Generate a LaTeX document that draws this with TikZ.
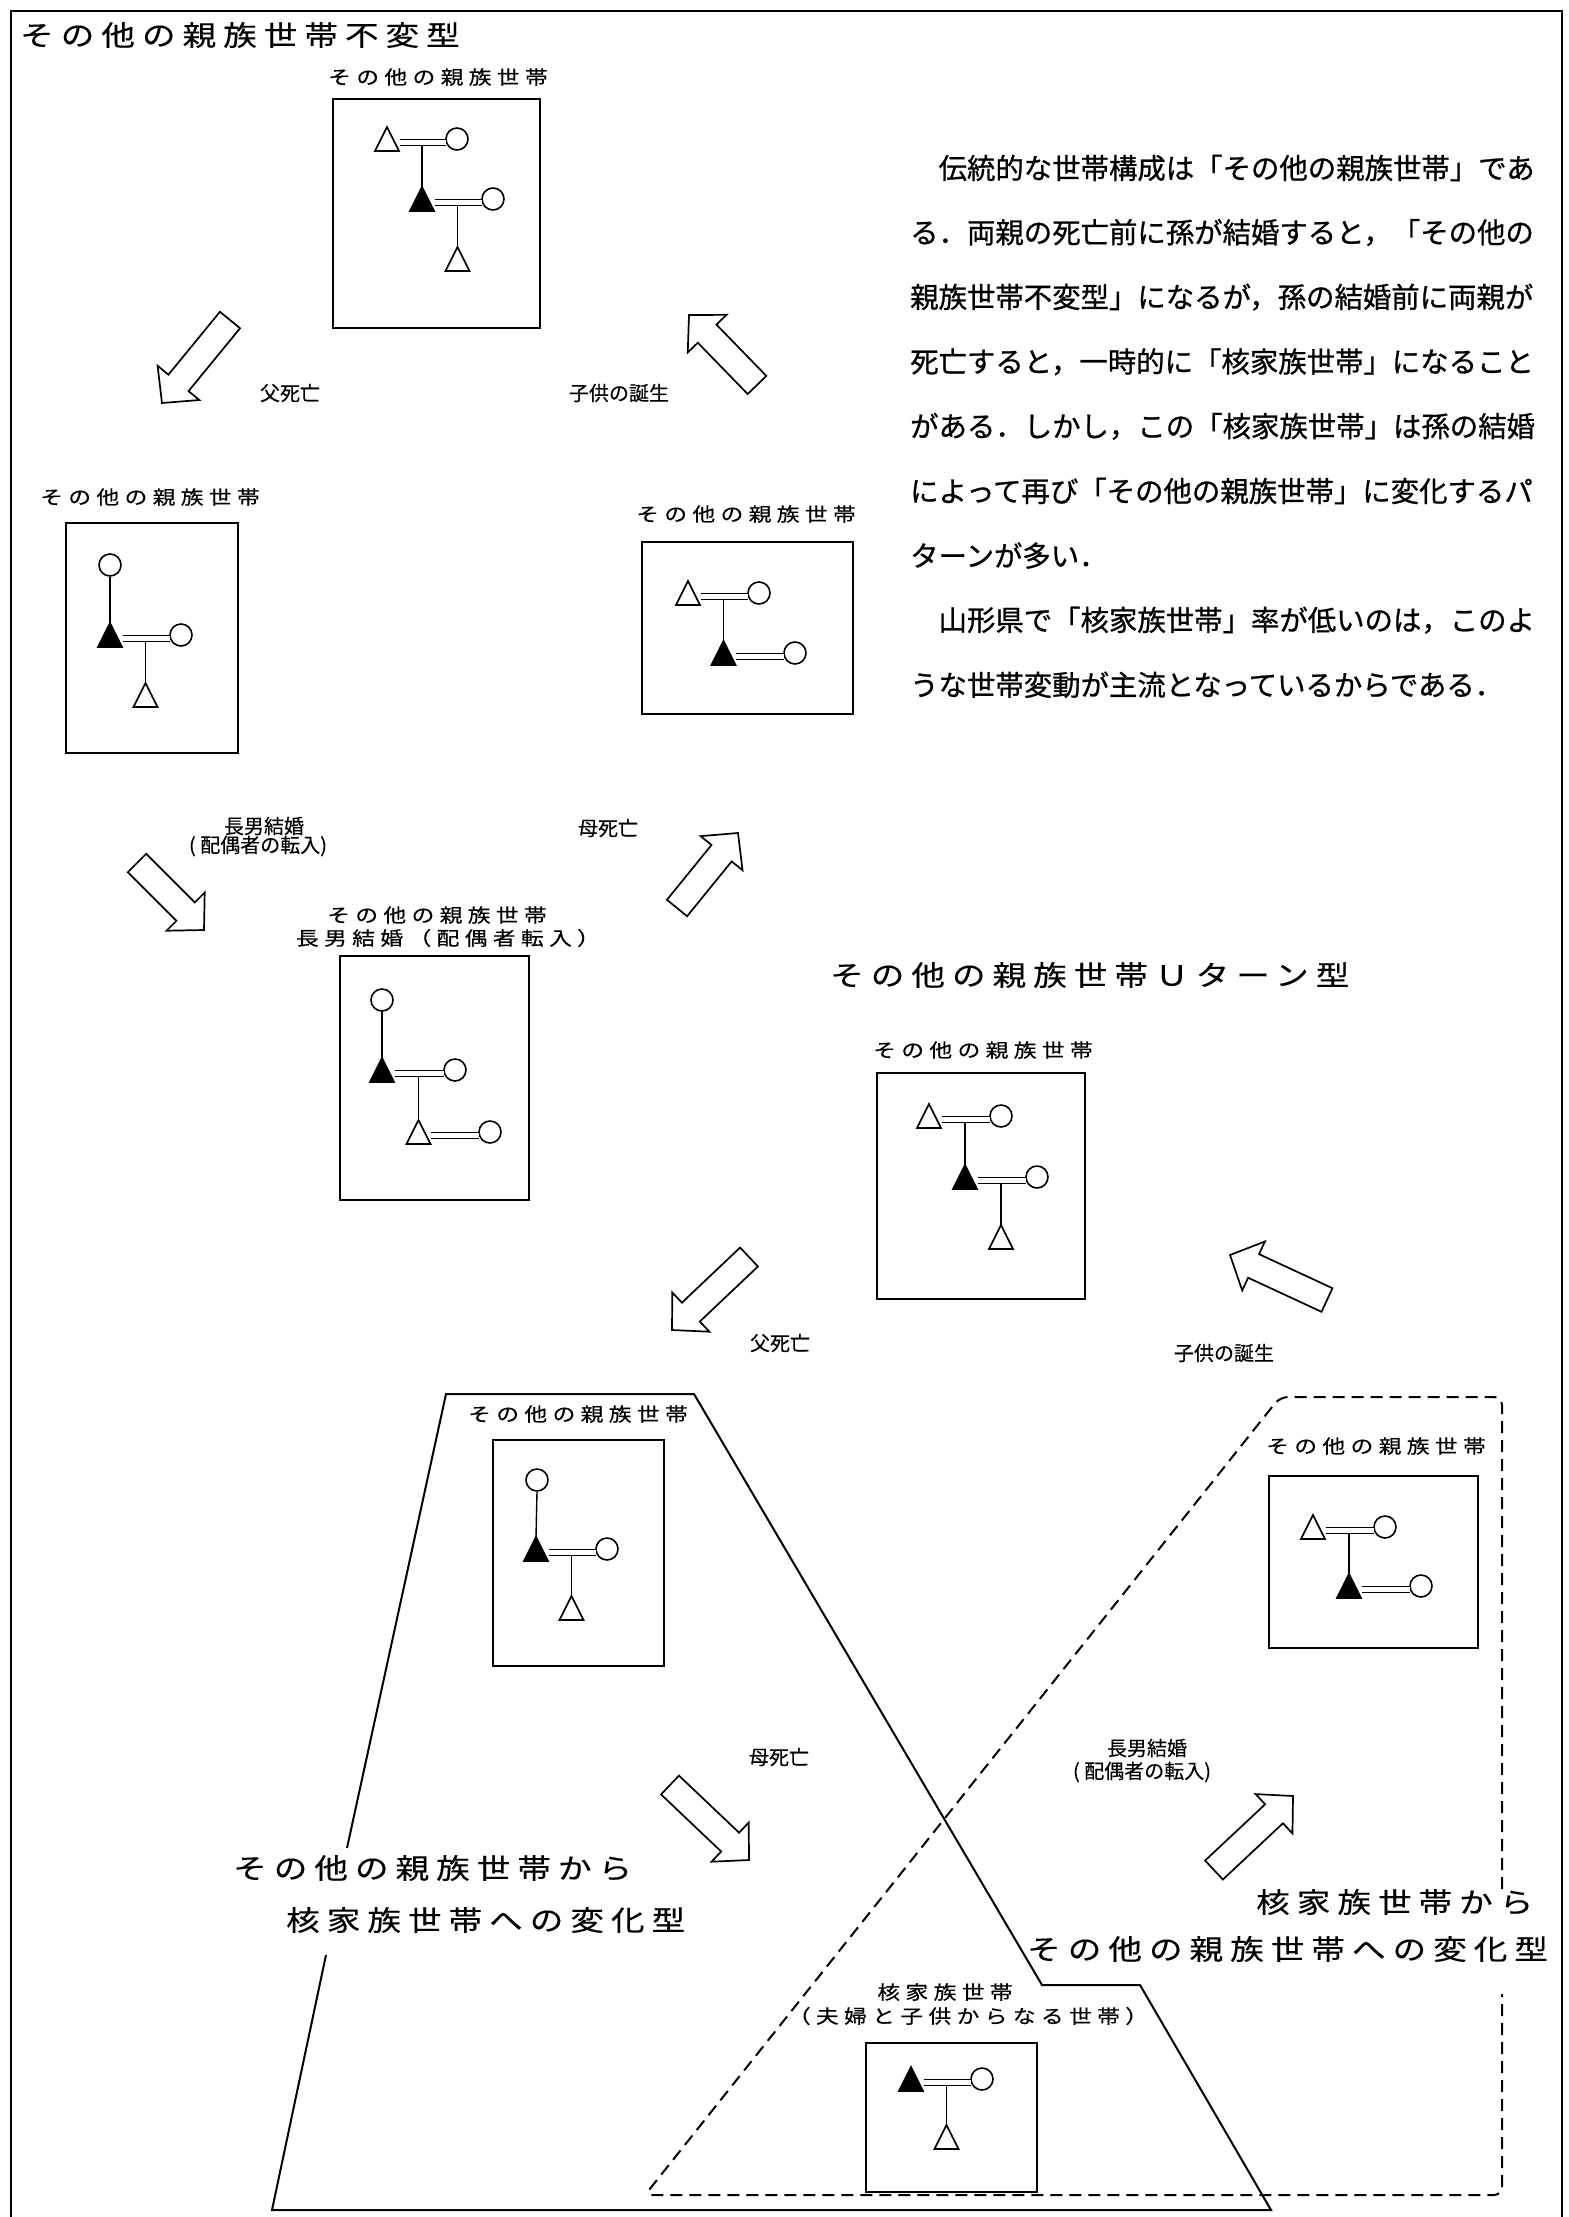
\documentclass[tikz,border=0pt]{standalone}
\usepackage{fontspec}
\usetikzlibrary{calc}
\newfontfamily\jp{Noto Sans CJK JP}[FakeBold=0.3]
\newfontfamily\jppara{Noto Sans CJK JP}[FakeBold=0.8]
\newfontfamily\jpwide{Noto Sans CJK JP}[FakeStretch=1.2, LetterSpace=25, FakeBold=0.3]
\newfontfamily\jpmid{Noto Sans CJK JP}[FakeStretch=1.2, LetterSpace=28, FakeBold=0.4]
\tikzset{
  sym/.style={line width=1.7pt, line join=miter},
  circ/.style={circle, draw, line width=1.6pt, minimum size=22pt, inner sep=0pt},
  famframe/.style={draw, line width=1.9pt, inner sep=0pt},
  dbl/.style={line width=1.6pt, double, double distance=4.6pt},
  ln/.style={line width=1.4pt},
  barrow/.style={draw, line width=1.7pt, fill=white, line join=miter},
  outer/.style={line width=2.2pt},
  trap/.style={line width=2pt, line join=miter},
  dsh/.style={line width=2pt, dash pattern=on 12pt off 7pt, rounded corners=8pt},
  bigt/.style={font=\jpwide\fontsize{28}{34}\selectfont, inner sep=0pt, anchor=west},
  lab/.style={font=\jpmid\fontsize{19}{24}\selectfont, inner sep=0pt},
  alab/.style={font=\jp\fontsize{20}{24}\selectfont, inner sep=0pt},
  para/.style={font=\jppara\fontsize{28.4}{34}\selectfont, inner sep=0pt, anchor=west},
}
% triangle symbol: [fill], name, x, y
\newcommand{\Tri}[4][]{%
  \coordinate (#2) at (#3,#4);
  \coordinate (#2-top) at (#3,#4-12);
  \draw[sym,#1] (#3-12,#4+12) -- (#2-top) -- (#3+12,#4+12) -- cycle;}
\newcommand{\Circ}[3]{\node[circ] (#1) at (#2,#3) {};}
\newcommand{\Couple}[2]{\draw[dbl] ($(#1)+(12.5,3.5)$) -- ($(#2)+(-11,3.5)$);}
\newcommand{\Descent}[3]{\draw[ln] ($(#1)!0.5!(#2)+(0,6.5)$) -- (#3-top);}
% frame box: name, x1, y1, x2, y2
\newcommand{\FamBox}[5]{\node[famframe, minimum width={#4-#2}, minimum height={#5-#3}] (#1) at ({(#2+#4)/2},{(#3+#5)/2}) {};}
% block arrow: name, tail centre, tip
\newcommand{\BArrow}[3]{%
  \coordinate (#1-a) at #2; \coordinate (#1-b) at #3;
  \coordinate (#1-h) at ($(#1-b)!26pt!(#1-a)$);
  \draw[barrow] ($(#1-a)!13pt!90:(#1-b)$) -- ($(#1-h)!13pt!90:(#1-b)$) -- ($(#1-h)!27pt!90:(#1-b)$) -- (#1-b)
     -- ($(#1-h)!27pt!-90:(#1-b)$) -- ($(#1-h)!13pt!-90:(#1-b)$) -- ($(#1-a)!13pt!-90:(#1-b)$) -- cycle;}
\begin{document}
\begin{tikzpicture}[x=1pt,y=-1pt]
\useasboundingbox (0,0) rectangle (1569,2217);
\fill[white] (0,0) rectangle (1569,2217);
% outer frame
\draw[outer] (11,2217) -- (11,11) -- (1562,11) -- (1562,2217);

% titles
\node[bigt] (t1) at (20,35) {その他の親族世帯不変型};
\node[bigt] (t2) at (830,975) {その他の親族世帯Ｕターン型};
\node[bigt] (t3) at (233,1868) {その他の親族世帯から};
\node[bigt] (t4) at (286,1920) {核家族世帯への変化型};
\node[bigt] (t5) at (1256,1902) {核家族世帯から};
\node[bigt] (t6) at (1027,1949) {その他の親族世帯への変化型};

% paragraph
\node[para] (p1) at (910,168) {　伝統的な世帯構成は「その他の親族世帯」であ};
\node[para] (p2) at (910,232.6) {る．両親の死亡前に孫が結婚すると，「その他の};
\node[para] (p3) at (910,297.2) {親族世帯不変型」になるが，孫の結婚前に両親が};
\node[para] (p4) at (910,361.8) {死亡すると，一時的に「核家族世帯」になること};
\node[para] (p5) at (910,426.4) {がある．しかし，この「核家族世帯」は孫の結婚};
\node[para] (p6) at (910,491) {によって再び「その他の親族世帯」に変化するパ};
\node[para] (p7) at (910,555.6) {ターンが多い．};
\node[para] (p8) at (910,620.2) {　山形県で「核家族世帯」率が低いのは，このよ};
\node[para] (p9) at (910,684.8) {うな世帯変動が主流となっているからである．};

% boxes and labels
\FamBox{bA}{333}{99}{540}{328}
\node[lab] (lA) at (438,77) {その他の親族世帯};
\FamBox{bB}{66}{523}{238}{753}
\node[lab] (lB) at (150,497) {その他の親族世帯};
\FamBox{bC}{642}{542}{853}{714}
\node[lab] (lC) at (746,514) {その他の親族世帯};
\FamBox{bD}{340}{956}{529}{1200}
\node[lab] (lD1) at (437,915) {その他の親族世帯};
\node[lab] (lD2) at (448,938) {長男結婚（配偶者転入）};
\FamBox{bE}{877}{1073}{1085}{1299}
\node[lab] (lE) at (983,1050) {その他の親族世帯};
\FamBox{bF}{493}{1440}{664}{1666}
\node[lab] (lF) at (578,1414) {その他の親族世帯};
\FamBox{bG}{866}{2043}{1037}{2192}
\node[lab] (lG1) at (945,1992) {核家族世帯};
\node[lab] (lG2) at (968,2016) {（夫婦と子供からなる世帯）};
\FamBox{bH}{1269}{1476}{1478}{1648}
\node[lab] (lH) at (1376,1446) {その他の親族世帯};

% symbols A
\Tri{a1}{387}{139} \Circ{a2}{457}{139} \Couple{a1}{a2}
\Tri[fill=black]{a3}{422}{199} \Circ{a4}{493}{199} \Couple{a3}{a4}
\Descent{a1}{a2}{a3}
\Tri{a5}{457.5}{259} \Descent{a3}{a4}{a5}
% symbols B
\Circ{b0}{110}{565}
\Tri[fill=black]{b1}{110}{635} \Circ{b2}{181}{635} \Couple{b1}{b2}
\draw[ln] (b0.south) -- (b1-top);
\Tri{b3}{145.5}{695} \Descent{b1}{b2}{b3}
% symbols C
\Tri{c1}{688}{593} \Circ{c2}{759}{593} \Couple{c1}{c2}
\Tri[fill=black]{c3}{723.5}{653} \Circ{c4}{795}{653} \Couple{c3}{c4}
\Descent{c1}{c2}{c3}
% symbols D
\Circ{d0}{382}{1000}
\Tri[fill=black]{d1}{382}{1070} \Circ{d2}{455}{1070} \Couple{d1}{d2}
\draw[ln] (d0.south) -- (d1-top);
\Tri{d3}{418.5}{1132} \Circ{d4}{490}{1132} \Couple{d3}{d4}
\Descent{d1}{d2}{d3}
% symbols E
\Tri{e1}{929}{1116} \Circ{e2}{1001}{1116} \Couple{e1}{e2}
\Tri[fill=black]{e3}{965}{1177} \Circ{e4}{1037}{1177} \Couple{e3}{e4}
\Descent{e1}{e2}{e3}
\Tri{e5}{1001}{1237} \Descent{e3}{e4}{e5}
% symbols F
\Circ{f0}{537}{1480}
\Tri[fill=black]{f1}{536}{1549} \Circ{f2}{607}{1549} \Couple{f1}{f2}
\draw[ln] (f0.south) -- (f1-top);
\Tri{f3}{571.5}{1608} \Descent{f1}{f2}{f3}
% symbols G
\Tri[fill=black]{g1}{911}{2079} \Circ{g2}{982}{2079} \Couple{g1}{g2}
\Tri{g3}{946.5}{2137} \Descent{g1}{g2}{g3}
% symbols H
\Tri{h1}{1313}{1527} \Circ{h2}{1385}{1527} \Couple{h1}{h2}
\Tri[fill=black]{h3}{1349}{1586} \Circ{h4}{1421}{1586} \Couple{h3}{h4}
\Descent{h1}{h2}{h3}

% block arrows
\BArrow{r1}{(230,320)}{(162,403)}
\BArrow{r2}{(757,385)}{(689,315)}
\BArrow{r3}{(137,863)}{(204,930)}
\BArrow{r4}{(677,908)}{(738,833)}
\BArrow{r5}{(749,1257)}{(672,1330)}
\BArrow{r6}{(1327,1300)}{(1230,1255)}
\BArrow{r7}{(670,1785)}{(749,1860)}
\BArrow{r8}{(1214,1870)}{(1293,1796)}

% arrow labels
\node[alab] (m1) at (290,393) {父死亡};
\node[alab] (m2) at (619,393) {子供の誕生};
\node[alab] (m3a) at (264,826) {長男結婚};
\node[alab] (m3b) at (258,846) {( 配偶者の転入)};
\node[alab] (m4) at (608,828) {母死亡};
\node[alab] (m5) at (780,1343) {父死亡};
\node[alab] (m6) at (1224,1353) {子供の誕生};
\node[alab] (m7) at (779,1757) {母死亡};
\node[alab] (m8a) at (1147,1748) {長男結婚};
\node[alab] (m8b) at (1142,1772) {( 配偶者の転入)};

% trapezoid (solid) and dashed region
\draw[trap] (347,1848) -- (446,1394) -- (694,1394) -- (1042,1985) -- (1140,1985) -- (1271,2210) -- (272,2210) -- (326,1955);
\draw[dsh] (1502,1889) -- (1502,1397) -- (1280,1397) -- (645,2195) -- (1502,2195) -- (1502,1994);
\end{tikzpicture}
\end{document}
